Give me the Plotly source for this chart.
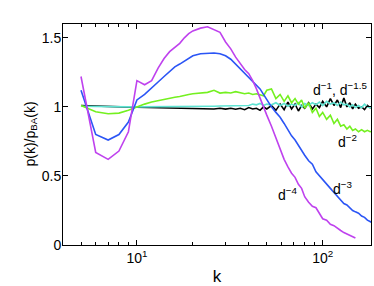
import plotly.graph_objects as go
import math

# degree k (shared grid)
k = [5, 6, 7, 8, 9, 10, 11, 12, 13, 14, 15, 16, 17, 18, 19, 20,
     22, 24, 26, 28, 30, 32, 34, 36, 38, 40, 42, 44, 46, 48, 50,
     53, 56, 59, 62, 65, 68, 71, 74, 77, 80,
     84, 88, 92, 96, 100,
     105, 110, 115, 120, 125, 130, 135, 140, 145, 150,
     156, 162, 168, 174, 180, 186]

# p(k)/p_BA(k) for each kernel exponent
ratio_d1 = [1.01, 1.005, 1.0, 1.0, 0.998, 0.997, 0.996, 0.995, 0.995, 0.994, 0.993, 0.993, 0.992, 0.99, 0.99, 0.99,
            0.988, 0.99, 0.985, 0.99, 0.984, 0.99, 0.983, 0.99, 0.98, 0.995, 0.985, 0.99, 0.975, 1.0, 0.985,
            1.01, 0.975, 1.02, 0.98, 1.035, 0.985, 1.02, 0.97, 1.01, 0.99,
            1.03, 0.985, 1.02, 0.995, 1.04,
            1.0, 1.06, 1.01, 1.05, 0.995, 1.065, 1.0, 1.03, 0.985, 1.02,
            0.99, 1.0, 0.98, 1.01, 0.995, 1.0]
ratio_d15 = [1.005, 1.002, 1.0, 1.0, 1.0, 1.0, 1.0, 1.0, 1.0, 1.0, 1.0, 1.001, 1.002, 1.002, 1.003, 1.003,
             1.004, 1.005, 1.005, 1.006, 1.007, 1.008, 1.01, 1.008, 1.012, 1.01, 1.02, 1.015, 1.025, 1.01, 1.02,
             1.015, 1.03, 1.01, 1.025, 1.005, 1.02, 1.01, 1.03, 1.0, 1.025,
             1.01, 1.03, 1.015, 1.035, 1.01,
             1.04, 1.02, 1.03, 1.01, 1.035, 1.015, 1.02, 1.0, 1.015, 0.995,
             1.01, 0.995, 1.02, 1.0, 0.995, 1.01]
ratio_d2 = [1.01, 0.965, 0.95, 0.955, 0.975, 1.0, 1.02, 1.035, 1.045, 1.055, 1.065, 1.07, 1.075, 1.08, 1.09, 1.095,
            1.10, 1.105, 1.12, 1.10, 1.105, 1.10, 1.11, 1.10, 1.095, 1.10, 1.09, 1.095, 1.085, 1.08, 1.12,
            1.13, 1.06, 1.09, 1.04, 1.08, 1.03, 1.06, 1.02, 1.05, 0.99,
            1.03, 0.96, 0.99, 0.93, 0.96,
            0.91, 0.94, 0.88, 0.91, 0.86, 0.87, 0.84, 0.86, 0.83, 0.84,
            0.82, 0.835, 0.82, 0.83, 0.82, 0.825]
ratio_d3 = [1.12, 0.80, 0.76, 0.80, 0.89, 1.05, 1.09, 1.14, 1.18, 1.22, 1.26, 1.29, 1.31, 1.33, 1.35, 1.37,
            1.385, 1.39, 1.39, 1.385, 1.37, 1.345, 1.31, 1.275, 1.245, 1.215, 1.19, 1.16, 1.13, 1.09, 1.05,
            1.00, 0.96, 0.925, 0.88, 0.835, 0.79, 0.76, 0.72, 0.69, 0.65,
            0.61, 0.585, 0.53, 0.50, 0.47,
            0.44, 0.41, 0.38, 0.35, 0.32, 0.30, 0.29, 0.27, 0.25, 0.24,
            0.23, 0.21, 0.20, 0.18, 0.17, 0.16]
ratio_d4 = [1.22, 0.67, 0.62, 0.68, 0.82, 1.19, 1.16, 1.19, 1.28, 1.35, 1.40, 1.43, 1.46, 1.50, 1.53, 1.55,
            1.57, 1.58, 1.56, 1.54, 1.47, 1.42, 1.36, 1.31, 1.27, 1.24, 1.19, 1.13, 1.06, 1.00, 0.94,
            0.86, 0.78, 0.69, 0.62, 0.565, 0.52, 0.49, 0.44, 0.41, 0.35,
            0.31, 0.28, 0.27, 0.23, 0.19,
            0.18, 0.15, 0.14, 0.12, 0.105, 0.09, 0.08, 0.07, 0.06, 0.05]

series = [
    (ratio_d1, "#000000"),
    (ratio_d15, "#5FE3D2"),
    (ratio_d2, "#74F020"),
    (ratio_d3, "#2B55F5"),
    (ratio_d4, "#BF42EE"),
]

labels = [
    ("d<sup>\u22121</sup>, d<sup>\u22121.5</sup>", 124, 1.13),
    ("d<sup>\u22122</sup>", 136, 0.755),
    ("d<sup>\u22123</sup>", 129, 0.41),
    ("d<sup>\u22124</sup>", 65.4, 0.37),
]

FONT = "Liberation Sans, Arial, sans-serif"

fig = go.Figure()
for vals, col in series:
    fig.add_trace(go.Scatter(x=k[:len(vals)], y=vals, mode="lines",
                             line=dict(color=col, width=1.6), showlegend=False))

for txt, lx, ly in labels:
    fig.add_annotation(x=math.log10(lx), y=ly, text=txt, showarrow=False,
                       font=dict(family=FONT, size=14, color="black"))

# y axis title placed by hand, closer to the tick labels than plotly puts it
fig.add_annotation(text="p(k)/p<sub>BA</sub>(k)", xref="paper", yref="paper",
                   x=-0.107, y=0.5, xanchor="center", yanchor="middle",
                   textangle=-90, showarrow=False,
                   font=dict(family=FONT, size=14, color="black"))

minor_k = [4, 5, 6, 7, 8, 9, 20, 30, 40, 50, 60, 70, 80, 90]

fig.update_layout(
    width=374, height=286,
    margin=dict(l=63, r=2, t=24, b=37),
    paper_bgcolor="white", plot_bgcolor="white",
    font=dict(family=FONT, size=14, color="black"),
    xaxis=dict(type="log", range=[math.log10(4), math.log10(182)],
               tickvals=[10, 100], ticktext=["10<sup>1</sup>", "10<sup>2</sup>"],
               ticks="inside", ticklen=5, tickcolor="black",
               minor=dict(ticks="inside", ticklen=3, tickcolor="black", tickvals=minor_k),
               showline=True, linecolor="black", linewidth=1, mirror="allticks",
               showgrid=False, zeroline=False,
               title=dict(text="k", standoff=6)),
    yaxis=dict(range=[0, 1.6], tickvals=[0, 0.5, 1, 1.5], ticktext=["0", "0.5", "1", "1.5"],
               ticks="inside", ticklen=5, tickcolor="black", ticklabelstandoff=-2,
               showline=True, linecolor="black", linewidth=1, mirror="allticks",
               showgrid=False, zeroline=False),
)

fig.write_html("out.html", config={"displayModeBar": False},
               post_script="document.body.style.margin='0px';")
